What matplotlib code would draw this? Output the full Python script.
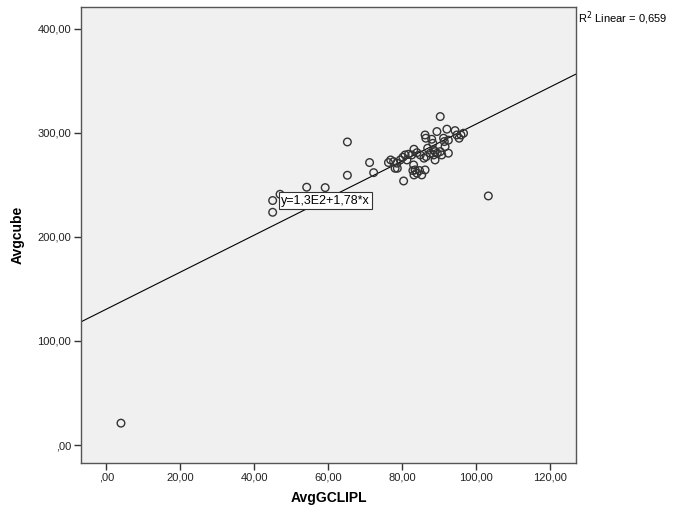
import numpy as np
import matplotlib
matplotlib.use("Agg")
import matplotlib.pyplot as plt
from matplotlib.ticker import FuncFormatter

plt.rcParams['font.family'] = ['Arial', 'Liberation Sans', 'DejaVu Sans']

# data (AvgGCLIPL vs Avgcube)
avg_gclipl = [4.0, 103.3, 65.2, 65.2, 71.2, 72.3, 80.4, 45.0, 45.0, 54.2, 59.2, 47.0,
              76.3, 76.9, 77.7, 78.6, 78.1, 78.7, 79.5, 80.2, 80.8, 81.7, 82.6, 83.2,
              84.0, 84.9, 86.2, 86.4, 85.9, 86.5, 86.9, 87.6, 88.0, 88.3, 88.5, 88.9,
              89.4, 89.5, 90.3, 90.7, 91.2, 91.4, 91.6, 92.1, 92.5, 94.3, 95.4, 95.9,
              83.1, 83.5, 84.0, 84.7, 85.3, 86.2, 83.2, 82.9, 81.3, 88.5, 88.9, 94.8,
              96.6, 92.5, 90.3]
avg_cube = [21.0, 239.4, 291.3, 259.3, 271.5, 261.8, 253.8, 235.0, 223.7, 247.8, 247.4, 241.0,
            271.5, 274.0, 272.4, 270.9, 266.0, 266.0, 274.0, 276.6, 278.8, 279.5, 278.8, 284.3,
            281.0, 278.8, 298.0, 294.9, 275.7, 277.2, 285.3, 280.5, 293.9, 290.0, 283.7, 282.0,
            301.3, 280.5, 282.0, 278.8, 294.9, 291.7, 286.8, 303.6, 280.5, 302.2, 294.9, 298.0,
            269.2, 264.4, 261.3, 263.8, 259.6, 264.4, 259.6, 263.8, 274.0, 278.8, 274.0, 298.0,
            299.7, 293.0, 315.7]
fit_intercept = 130.5
fit_slope = 1.78
r2_text = "R$^2$ Linear = 0,659"
eq_text = "y=1,3E2+1,78*x"

x_ticks = [0, 20, 40, 60, 80, 100, 120]
y_ticks = [0, 100, 200, 300, 400]


def spss_fmt(v, pos=None):
    s = f"{v:.2f}".replace('.', ',')
    if s.startswith('0,'):
        s = s[1:]
    return s


fig = plt.figure(figsize=(6.89, 5.24), dpi=100)
ax = fig.add_axes([0.1176, 0.1164, 0.7184, 0.8702])
ax.set_facecolor('#f0f0f0')

xlim = (-6.8, 127.0)
ylim = (-17.3, 421.0)

xx = np.array(xlim)
ax.plot(xx, fit_intercept + fit_slope * xx, color='black', lw=0.8, zorder=2)

ax.scatter(avg_gclipl, avg_cube, s=30, facecolors='none', edgecolors='#333333',
           linewidths=1.0, zorder=3)

ax.set_xlim(*xlim)
ax.set_ylim(*ylim)
ax.set_xticks(x_ticks)
ax.set_yticks(y_ticks)
ax.xaxis.set_major_formatter(FuncFormatter(spss_fmt))
ax.yaxis.set_major_formatter(FuncFormatter(spss_fmt))
ax.tick_params(direction='out', length=5, width=1, labelsize=8, colors='#333333',
               labelcolor='#222222', pad=2)
for sp in ax.spines.values():
    sp.set_color('#555555')
    sp.set_linewidth(1.0)

ax.set_xlabel('AvgGCLIPL', fontsize=10, fontweight='bold', labelpad=6)
ax.set_ylabel('Avgcube', fontsize=10, fontweight='bold', labelpad=9)

ax.text(47.3, 234.6, eq_text, fontsize=9, va='center', ha='left', zorder=4,
        bbox=dict(boxstyle='square,pad=0.2', facecolor='white', edgecolor='#333333', lw=0.8))
fig.text(0.839, 0.965, r2_text, fontsize=8, ha='left', va='center')

fig.savefig('out.png', dpi=100, facecolor='white')
